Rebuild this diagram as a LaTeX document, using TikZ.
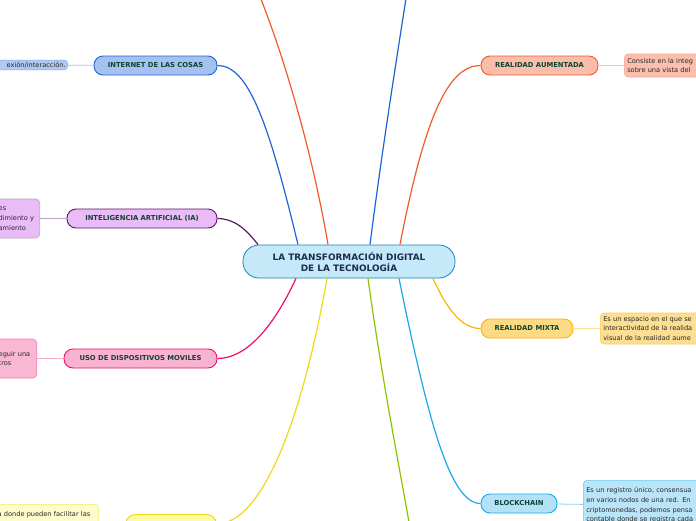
\documentclass[tikz,border=0pt]{standalone}
\usepackage{fontspec}
\setmainfont{DejaVu Sans}
\usepackage{xcolor}
\usetikzlibrary{positioning}

\definecolor{titulo}{HTML}{0C4433}
\definecolor{tituloC}{HTML}{1B2C50}
\definecolor{rojoN}{HTML}{F25A28}
\definecolor{azulN}{HTML}{1E64D8}
\definecolor{moradoN}{HTML}{5C1769}
\definecolor{lilaN}{HTML}{E9BBF7}
\definecolor{rosaN}{HTML}{EE0E6E}
\definecolor{amarN}{HTML}{F0D818}
\definecolor{verdeN}{HTML}{8CC400}
\definecolor{celesteN}{HTML}{1AA8E8}
\definecolor{naranjaN}{HTML}{FBB400}

\begin{document}
\begin{tikzpicture}[x=1pt,y=-1pt,
  tema/.style={draw,rounded corners=9pt,line width=0.9pt,minimum height=19pt,inner sep=0pt,
    font=\fontsize{6.8}{8}\selectfont\bfseries,text=titulo},
  hoja/.style={draw,rounded corners=4pt,line width=0.6pt,inner sep=3pt,align=left,
    font=\fontsize{6.6}{9.8}\selectfont,text=black!85},
  rama/.style={line width=1.2pt},
  enlace/.style={line width=0.8pt}]
\useasboundingbox (0,0) rectangle (696,520);

% centro
\node[draw=celesteN!80!black,fill=celesteN!25,rounded corners=16pt,line width=0.8pt,
  minimum width=212,minimum height=33,inner sep=0pt,align=center,
  font=\fontsize{8.9}{11}\selectfont\bfseries,text=tituloC] (centro) at (349,261.5)
  {LA TRANSFORMACIÓN DIGITAL\\DE LA TECNOLOGÍA};

% temas de la izquierda
\node[tema,draw=azulN,fill=azulN!40,minimum width=123] (internet) at (155.5,65.5) {INTERNET DE LAS COSAS};
\node[tema,draw=moradoN,fill=lilaN,minimum width=150] (ia) at (142,218.5) {INTELIGENCIA ARTIFICIAL (IA)};
\node[tema,draw=rosaN,fill=rosaN!32,minimum width=153] (moviles) at (140.5,358.5) {USO DE DISPOSITIVOS MOVILES};
\node[tema,draw=amarN,fill=yellow!35,minimum width=90] (amarillo) at (171,524) {};

% temas de la derecha
\node[tema,draw=rojoN,fill=rojoN!40,minimum width=117] (aumentada) at (539.5,65.5) {REALIDAD AUMENTADA};
\node[tema,draw=naranjaN,fill=naranjaN!48,minimum width=92] (mixta) at (527,328.5) {REALIDAD MIXTA};
\node[tema,draw=celesteN,fill=celesteN!33,minimum width=76] (blockchain) at (519,503.5) {BLOCKCHAIN};

% textos
\node[hoja,draw=azulN!55,fill=azulN!35,anchor=east,inner sep=2pt,text width=68,align=right] (internetTxt) at (68,65) {exión/interacción.};
\node[hoja,draw=moradoN!40,fill=lilaN,anchor=east,text width=38,minimum height=39] (iaTxt) at (40,218.5) {es\\dimiento y\\amiento};
\node[hoja,draw=rosaN!55,fill=rosaN!30,anchor=east,text width=35,minimum height=39] (movilesTxt) at (37,358.5) {eguir una\\tros};
\node[hoja,draw=amarN!60,fill=yellow!20,anchor=north east,text width=98,minimum height=30] (amarilloTxt) at (99,504) {a donde pueden facilitar las\\ividuos mediante las};
\node[hoja,draw=rojoN!55,fill=rojoN!38,anchor=west,text width=90,minimum height=23] (aumentadaTxt) at (624,65.5) {Consiste en la integ\\sobre una vista del};
\node[hoja,draw=naranjaN!65,fill=naranjaN!42,anchor=west,text width=110,minimum height=31] (mixtaTxt) at (600,328.5) {Es un espacio en el que se\\interactividad de la realida\\visual de la realidad aume};
\node[hoja,draw=celesteN!65,fill=celesteN!30,anchor=north west,text width=125,minimum height=50] (blockchainTxt) at (583,480) {Es un registro único, consensua\\en varios nodos de una red. En\\criptomonedas, podemos pensa\\contable donde se registra cada};

% ramas hacia fuera del cuadro
\coordinate (arribaA) at (258,-8);
\coordinate (arribaB) at (407,-8);
\coordinate (abajoA) at (410,528);

% ramas
\draw[rama,moradoN] ([xshift=-91]centro.north) .. controls (246,229) and (234,218.5) .. (ia.east);
\draw[rama,azulN] ([xshift=-51]centro.north) .. controls (268,120) and (248,65.5) .. (internet.east);
\draw[rama,rojoN] ([xshift=-21]centro.north) .. controls (312,150) and (282,50) .. (arribaA);
\draw[rama,azulN] ([xshift=21]centro.north) .. controls (382,150) and (398,50) .. (arribaB);
\draw[rama,rojoN] ([xshift=51]centro.north) .. controls (426,110) and (450,65.5) .. (aumentada.west);
\draw[rama,rosaN] ([xshift=-53]centro.south) .. controls (272,330) and (245,358.5) .. (moviles.east);
\draw[rama,amarN] ([xshift=-22]centro.south) .. controls (302,420) and (262,524) .. (amarillo.east);
\draw[rama,verdeN] ([xshift=19]centro.south) .. controls (382,380) and (400,470) .. (abajoA);
\draw[rama,celesteN] ([xshift=50]centro.south) .. controls (428,420) and (450,503.5) .. (blockchain.west);
\draw[rama,naranjaN] ([xshift=84]centro.south) .. controls (450,316) and (465,328.5) .. (mixta.west);

% enlaces a los textos
\draw[enlace,azulN!40] (internet) -- (internetTxt);
\draw[enlace,moradoN!40] (ia) -- (iaTxt);
\draw[enlace,rosaN!35] (moviles) -- (movilesTxt);
\draw[enlace,rojoN!40] (aumentada) -- (aumentadaTxt);
\draw[enlace,naranjaN!40] (mixta) -- (mixtaTxt);
\draw[enlace,celesteN!50] (blockchain) -- (blockchainTxt);
\end{tikzpicture}
\end{document}
